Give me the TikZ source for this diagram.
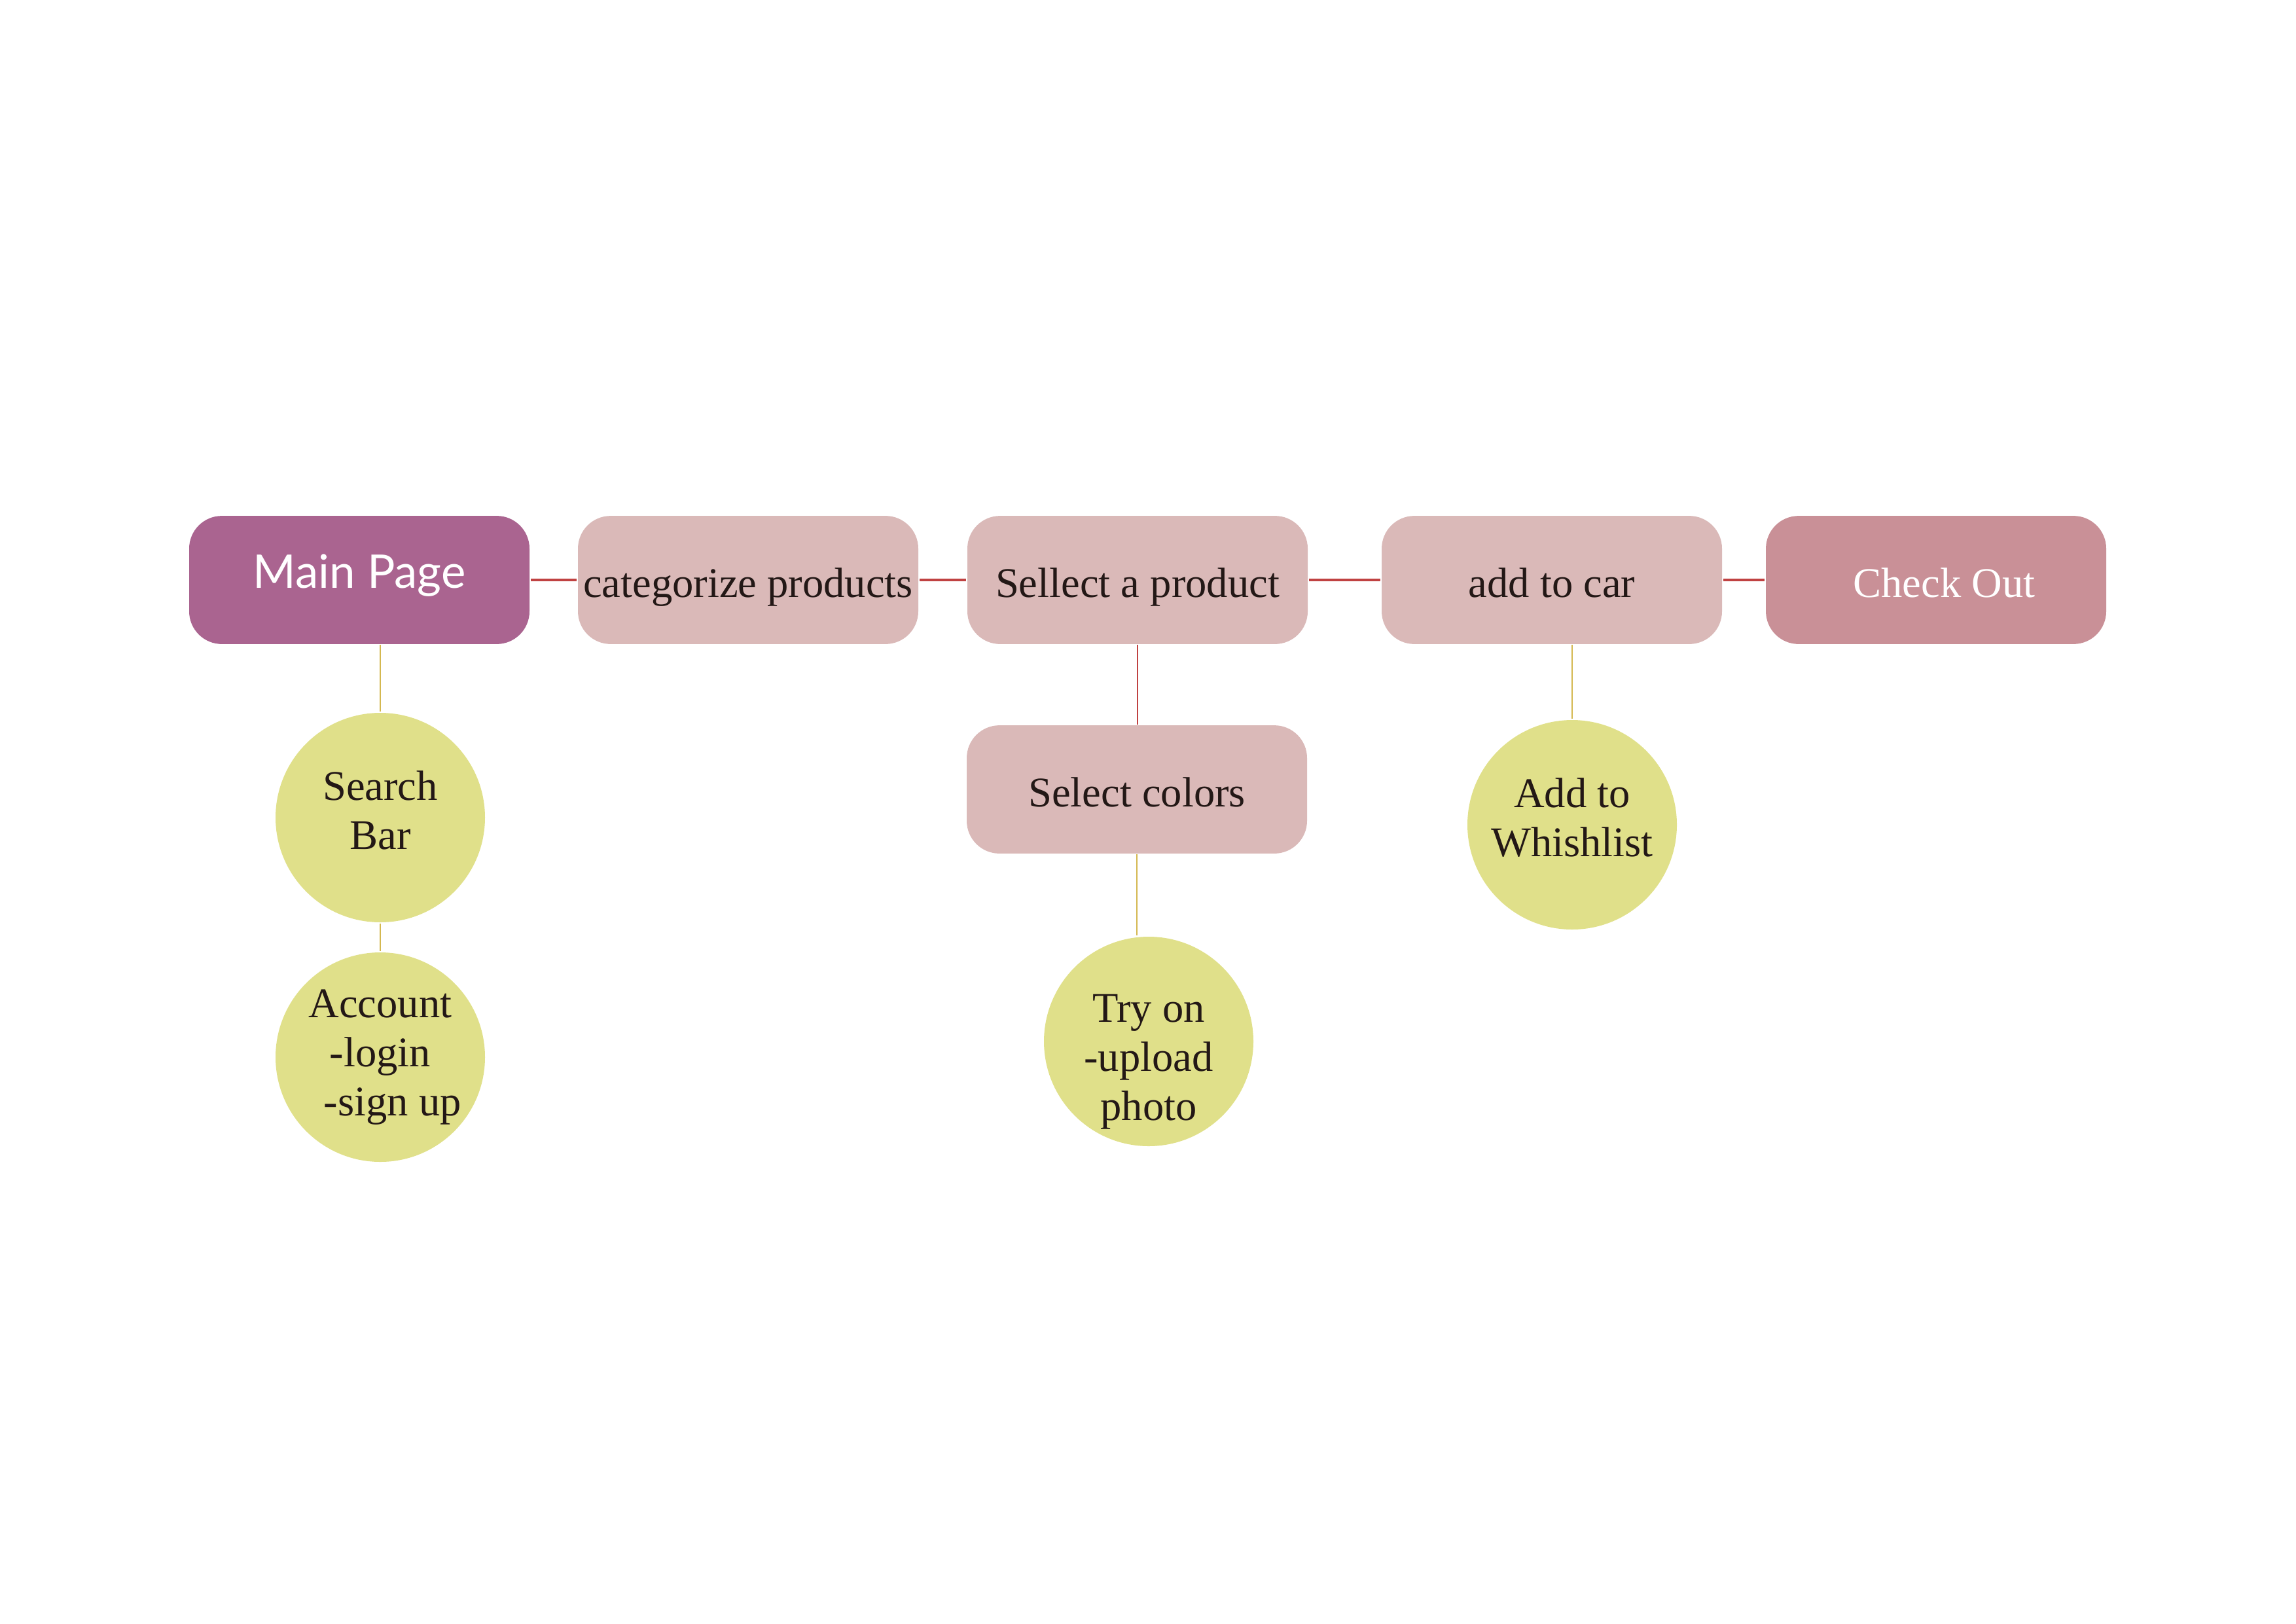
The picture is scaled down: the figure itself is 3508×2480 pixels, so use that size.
\documentclass[tikz,border=0pt]{standalone}
\usepackage{fontspec}
\setmainfont{Liberation Serif}
\newfontfamily\headfont{Lato}

\definecolor{plumbox}{RGB}{170,100,144}
\definecolor{rosebox}{RGB}{218,185,184}
\definecolor{roseout}{RGB}{201,144,151}
\definecolor{limecircle}{RGB}{224,224,138}
\definecolor{redline}{RGB}{192,66,66}
\definecolor{goldline}{RGB}{212,184,80}
\definecolor{inkbrown}{RGB}{35,24,22}

\tikzset{every picture/.style={line width=0.75pt}}
\tikzset{
  stepbox/.style={rounded corners=12pt, minimum width=124.8pt, minimum height=47pt,
    inner sep=0pt, fill=rosebox, text=inkbrown, text height=12.5pt, text depth=0pt,
    font=\fontsize{15.5}{18}\selectfont},
  featcircle/.style={circle, minimum size=76.8pt, inner sep=0pt, fill=limecircle},
  circletext/.style={inner sep=0pt, text=inkbrown, align=center,
    font=\fontsize{15.5}{18}\selectfont},
  mainlink/.style={draw=redline, line width=0.75pt},
  sublink/.style={draw=goldline, line width=0.4pt},
}

\begin{document}
\begin{tikzpicture}[x=0.24pt,y=0.24pt,yscale=-1,xscale=1]
%set diagram to the whole page
\useasboundingbox (0,0) rectangle (3508,2480);

%Rounded Rect: main row
\node [stepbox, fill=plumbox, text=white, text height=5.8pt,
  font=\headfont\fontsize{17}{20}\selectfont] (mainpage) at (549,886) {Main Page};
\node [stepbox] (categorize) at (1143,886) {categorize products};
\node [stepbox] (sellect) at (1738,886) {Sellect a product};
\node [stepbox] (addcar) at (2371,886) {add to car};
\node [stepbox, fill=roseout, text=white] (checkout) at (2958,886) {\hspace*{6pt}Check Out};
%Rounded Rect: below product
\node [stepbox] (colors) at (1737,1206) {Select colors};

%Shape: Circle
\node [featcircle] (search) at (581,1249) {};
\node [featcircle] (account) at (581,1615) {};
\node [featcircle] (tryon) at (1755,1591) {};
\node [featcircle] (wish) at (2402,1260) {};

% Text Node
\node [circletext, yshift=2.7pt] (searchtext) at (search) {Search\\Bar};
% Text Node
\node [circletext] (accounttext) at (account) {Account\\-login\\\hspace*{9pt}-sign up};
% Text Node
\node [circletext, yshift=-7.4pt] (tryontext) at (tryon) {Try on\\-upload\\photo};
% Text Node
\node [circletext, yshift=2.7pt] (wishtext) at (wish) {Add to\\Whishlist};

%Straight Lines: main row
\draw [mainlink] (mainpage.east) -- (categorize.west);
\draw [mainlink] (categorize.east) -- (sellect.west);
\draw [mainlink] (sellect.east) -- (addcar.west);
\draw [mainlink] (addcar.east) -- (checkout.west);
\draw [mainlink, line width=0.4pt] (sellect.south) -- (sellect.south |- colors.north);

%Straight Lines: branches
\draw [sublink] (search.north) -- (search.north |- mainpage.south);
\draw [sublink] (search.south) -- (account.north);
\draw [sublink] (colors.south) -- (colors.south |- tryon.north);
\draw [sublink] (wish.north) -- (wish.north |- addcar.south);
\end{tikzpicture}
\end{document}
